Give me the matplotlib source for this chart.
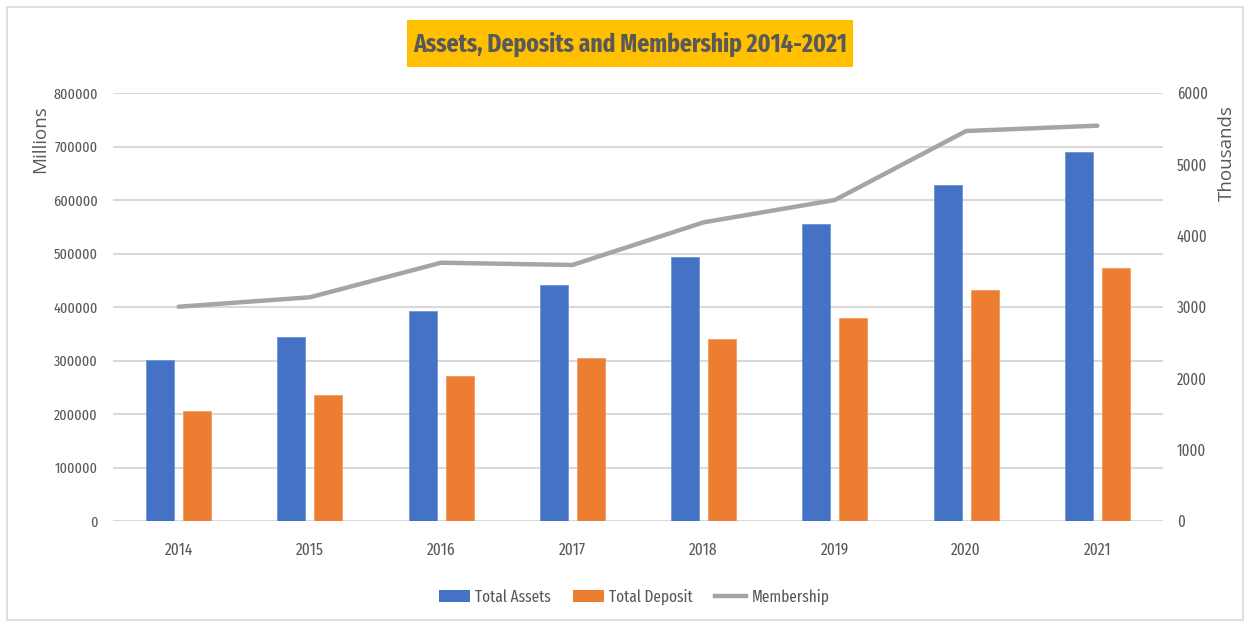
import matplotlib
matplotlib.use("Agg")
import matplotlib.pyplot as plt
from matplotlib.patches import Rectangle, Patch
from matplotlib.lines import Line2D
import numpy as np

years = ["2014", "2015", "2016", "2017", "2018", "2019", "2020", "2021"]
total_assets = [301000, 343000, 392500, 441000, 494000, 556000, 628000, 690300]
total_deposit = [205600, 235500, 271000, 304100, 340200, 379400, 431800, 473500]
membership = [3004, 3136, 3621, 3589, 4187, 4500, 5467, 5542]

left_ticks = [0, 100000, 200000, 300000, 400000, 500000, 600000, 700000, 800000]
right_ticks = [0, 1000, 2000, 3000, 4000, 5000, 6000]

narrow = ["Fira Sans Extra Condensed", "DejaVu Sans"]
plain = ["Open Sans", "DejaVu Sans"]

grey_txt = "#595959"
blue = "#4472c4"
orange = "#ed7d31"
line_grey = "#a5a5a5"
grid_grey = "#d9d9d9"

fig = plt.figure(figsize=(12.5, 6.25), dpi=100)
W, H = 1250, 625

# light frame round the whole chart
fig.patches.append(Rectangle((7 / W, 5 / H), 1236 / W, 613 / H, transform=fig.transFigure,
                             fill=False, edgecolor="#d9d9d9", linewidth=1.2))

ax = fig.add_axes([113 / W, 1 - 521 / H, 1050 / W, 428 / H])
ax2 = ax.twinx()

x = np.arange(len(years))
bw = 0.215
off = 0.141
ax.bar(x - off, total_assets, bw, color=blue, edgecolor="#6f93d6", linewidth=0.6, zorder=3)
ax.bar(x + off, total_deposit, bw, color=orange, edgecolor="#f29a62", linewidth=0.6, zorder=3)
ax2.plot(x, membership, color=line_grey, linewidth=3.2, solid_capstyle="round", zorder=4)

ax.set_xlim(-0.5, len(years) - 0.5)
ax.set_ylim(0, 800000)
ax2.set_ylim(0, 6000)
ax.set_yticks(left_ticks)
ax2.set_yticks(right_ticks)
ax.set_xticks(x)
ax.set_xticklabels(years)

ax.grid(axis="y", color=grid_grey, linewidth=1.5, zorder=0)
ax.set_axisbelow(True)
for a in (ax, ax2):
    for s in a.spines.values():
        s.set_visible(False)
ax.tick_params(axis="x", length=0, colors=grey_txt, labelsize=12, pad=15)
ax.tick_params(axis="y", length=0, colors=grey_txt, labelsize=11, pad=11)
ax2.tick_params(axis="y", length=0, colors=grey_txt, labelsize=11.5, pad=10)
for lab in ax.get_xticklabels() + ax.get_yticklabels() + ax2.get_yticklabels():
    lab.set_fontfamily(narrow)

fig.text(40 / W, 1 - 139 / H, "Millions", rotation=90, ha="center", va="center",
         color=grey_txt, fontsize=13.5, fontfamily=plain)
fig.text(1227 / W, 1 - 153 / H, "Thousands", rotation=90, ha="center", va="center",
         color=grey_txt, fontsize=13.5, fontfamily=plain)

# title on a yellow box
fig.patches.append(Rectangle((407 / W, 1 - 67 / H), 446 / W, 47 / H, transform=fig.transFigure,
                             facecolor="#ffc000", edgecolor="none"))
fig.text(630 / W, 1 - 44 / H, "Assets, Deposits and Membership 2014-2021", ha="center", va="center",
         color=grey_txt, fontsize=18.5, fontweight="bold", fontfamily=narrow)

handles = [Patch(facecolor=blue, edgecolor="none"),
           Patch(facecolor=orange, edgecolor="none"),
           Line2D([0], [0], color=line_grey, linewidth=3.2)]
leg = fig.legend(handles, ["Total Assets", "Total Deposit", "Membership"], loc="center",
                 bbox_to_anchor=(634 / W, 1 - 597 / H), ncol=3, frameon=False,
                 handlelength=1.9, handleheight=0.8, handletextpad=0.3, columnspacing=1.3,
                 prop={"family": narrow, "size": 12})
for t in leg.get_texts():
    t.set_color(grey_txt)

fig.savefig("out.png", dpi=100)
